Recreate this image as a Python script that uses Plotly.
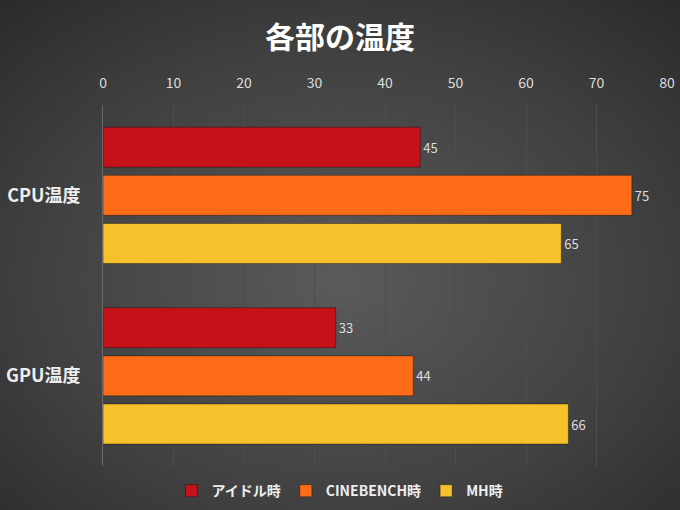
import numpy as np
import plotly.graph_objects as go

# data
categories = ["CPU温度", "GPU温度"]
idle_vals = [45, 33]
cinebench_vals = [75, 44]
mh_vals = [65, 66]
series_names = ["アイドル時", "CINEBENCH時", "MH時"]
series_colors = ["#C5121A", "#FF6B17", "#F6C22C"]
x_ticks = [0, 10, 20, 30, 40, 50, 60, 70, 80]

FONT = "Noto Sans CJK JP"

fig = go.Figure()

# radial gradient background (style only)
gx = np.linspace(-0.05, 1.05, 60)
gy = np.linspace(-0.05, 1.05, 60)
XX, YY = np.meshgrid(gx, gy)
rr = np.sqrt(((XX - 0.5) / 0.75) ** 2 + ((YY - 0.45) / 0.75) ** 2)
fig.add_trace(go.Heatmap(
    x=gx, y=gy, z=np.clip(rr, 0, 1), zsmooth="best", showscale=False,
    colorscale=[[0, "#5a5a5a"], [0.6, "#404040"], [1, "#2a2a2a"]],
    hoverinfo="skip", xaxis="x", yaxis="y",
))

for name, vals, color in zip(series_names, [idle_vals, cinebench_vals, mh_vals], series_colors):
    fig.add_trace(go.Bar(
        name=name, y=categories, x=vals, orientation="h",
        marker=dict(color=color, line=dict(color="rgba(0,0,0,0.35)", width=1)),
        text=vals, textposition="outside",
        textfont=dict(family=FONT, size=13, color="#dddddd"),
        cliponaxis=False, xaxis="x2", yaxis="y2",
    ))

fig.update_layout(
    width=680, height=510,
    margin=dict(l=0, r=0, t=0, b=0),
    paper_bgcolor="#333333", plot_bgcolor="rgba(0,0,0,0)",
    font=dict(family=FONT, color="#dddddd"),
    title=dict(text="各部の温度", x=0.5, xanchor="center", y=0.927, yanchor="middle",
               font=dict(family=FONT, size=30, color="#ffffff", weight="bold")),
    barmode="group", bargap=0.2, bargroupgap=0.17,
    xaxis=dict(domain=[0, 1], range=[0, 1], visible=False, fixedrange=True),
    yaxis=dict(domain=[0, 1], range=[0, 1], visible=False, fixedrange=True),
    xaxis2=dict(domain=[0.1515, 0.981], range=[0, 80], side="top", anchor="y2",
                automargin=False, ticklabeloverflow="allow",
                tickvals=x_ticks, showgrid=True, gridcolor="#4d4d4d", gridwidth=1,
                zeroline=False, showline=False,
                ticks="outside", ticklen=10, tickcolor="rgba(0,0,0,0)",
                tickfont=dict(family=FONT, size=14, color="#dddddd")),
    yaxis2=dict(domain=[0.086, 0.794], anchor="x2", autorange="reversed",
                automargin=False,
                showgrid=False, zeroline=False, showline=True, linecolor="#6a6a6a",
                linewidth=1, ticks="outside", ticklen=18, tickcolor="rgba(0,0,0,0)",
                tickfont=dict(family=FONT, size=18, color="#eeeeee", weight="bold")),
    legend=dict(orientation="h", x=0.5, xanchor="center", y=0.037, yanchor="middle",
                font=dict(family=FONT, size=14, color="#eeeeee", weight="bold"),
                bgcolor="rgba(0,0,0,0)", itemwidth=30),
    showlegend=True,
)

fig.write_html("out.html", config={"displayModeBar": False},
               post_script="document.body.style.margin='0';")
